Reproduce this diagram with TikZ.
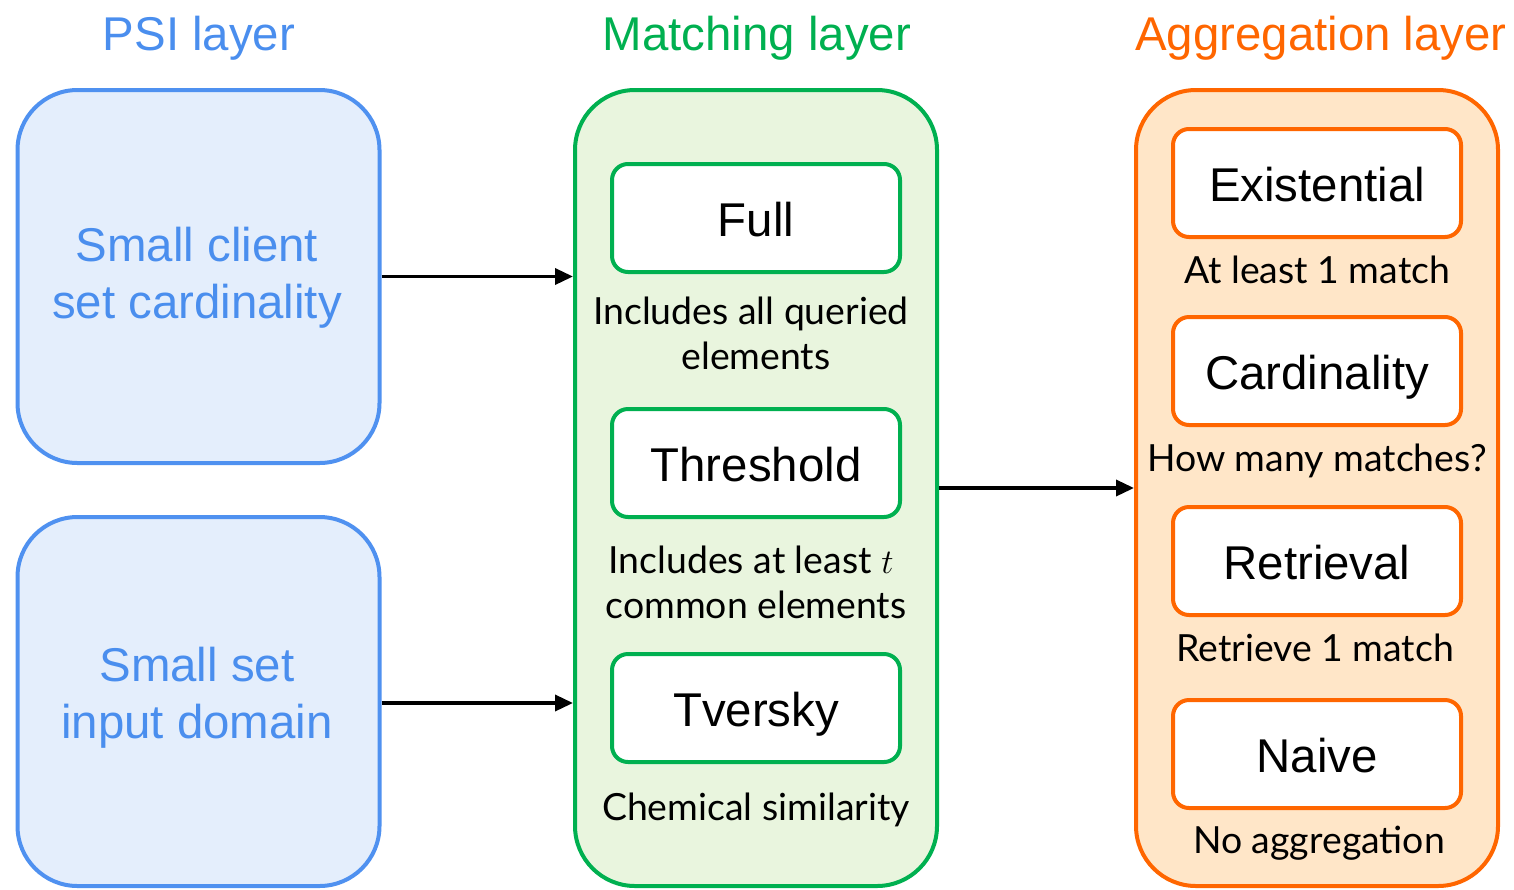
\documentclass[tikz,border=0pt]{standalone}
\usepackage{fontspec}
\setmainfont{Lato}
\newfontfamily\arialf{Liberation Sans}
\usetikzlibrary{arrows.meta}
\definecolor{bstroke}{RGB}{79,145,240}
\definecolor{bfill}{RGB}{228,238,252}
\definecolor{btext}{RGB}{74,142,238}
\definecolor{gstroke}{RGB}{0,176,80}
\definecolor{gfill}{RGB}{233,245,222}
\definecolor{gtext}{RGB}{0,176,80}
\definecolor{ostroke}{RGB}{255,102,0}
\definecolor{ofill}{RGB}{255,230,200}
\definecolor{otext}{RGB}{255,102,0}
\tikzset{
  layer/.style={draw, line width=2pt, rounded corners=30pt, minimum width=181pt, inner sep=0pt},
  psibox/.style={layer, draw=bstroke, fill=bfill, minimum height=#1},
  matchbox/.style={layer, draw=gstroke, fill=gfill, minimum height=398pt},
  aggbox/.style={layer, draw=ostroke, fill=ofill, minimum height=398pt},
  inner/.style={draw, line width=2pt, rounded corners=8pt, fill=white, minimum width=144pt, minimum height=54pt, inner sep=0pt},
  ginner/.style={inner, draw=gstroke},
  oinner/.style={inner, draw=ostroke},
  title/.style={font=\arialf\fontsize{23.7pt}{28pt}\selectfont, anchor=base, inner sep=0pt},
  lbl/.style={font=\arialf\fontsize{23.7pt}{28pt}\selectfont, anchor=base, inner sep=0pt},
  psitxt/.style={font=\arialf\fontsize{23.7pt}{28.5pt}\selectfont, text=btext, align=center, inner sep=0pt},
  desc/.style={font=\fontsize{18.7pt}{22.25pt}\selectfont, anchor=base, inner sep=0pt},
  arr/.style={line width=1.75pt, -{Triangle[length=9pt,width=8pt]}}
}
\begin{document}
\begin{tikzpicture}[x=0.5pt,y=-0.5pt]
\useasboundingbox (0,0) rectangle (1514,889);
% titles
\node[title, text=btext] (t1) at (199,50) {PSI layer};
\node[title, text=gtext] (t2) at (757,50) {Matching layer};
\node[title, text=otext] (t3) at (1321,50) {Aggregation layer};
% PSI boxes
\node[psibox=186.5pt] (p1) at (198.5,276.5) {};
\node[psibox=184.5pt] (p2) at (198.5,701.5) {};
\node[psitxt] (p1t) at (197,278) {Small client\\set cardinality};
\node[psitxt] (p2t) at (197,698) {Small set\\input domain};
% matching
\node[matchbox] (m) at (756,488) {};
\node[ginner] (full) at (756,218) {};
\node[lbl] (fullt) at (756,236) {Full};
\node[desc] (fulld1) at (751,324) {Includes all queried};
\node[desc] (fulld2) at (756,369) {elements};
\node[ginner] (thr) at (756,463) {};
\node[lbl] (thrt) at (756,481) {Threshold};
\node[desc] (thrd1) at (751,573) {Includes at least $t$};
\node[desc] (thrd2) at (756,618) {common elements};
\node[ginner] (tv) at (756,708) {};
\node[lbl] (tvt) at (756,726) {Tversky};
\node[desc] (tvd) at (756,820) {Chemical similarity};
% aggregation
\node[aggbox] (a) at (1317,488) {};
\node[oinner] (ex) at (1317,183) {};
\node[lbl] (ext) at (1317,201) {Existential};
\node[desc] (exd) at (1317,283) {At least 1 match};
\node[oinner] (ca) at (1317,371) {};
\node[lbl] (cat) at (1317,389) {Cardinality};
\node[desc] (cad) at (1317,471) {How many matches?};
\node[oinner] (re) at (1317,561) {};
\node[lbl] (ret) at (1317,579) {Retrieval};
\node[desc] (red) at (1315,661) {Retrieve 1 match};
\node[oinner] (na) at (1317,754) {};
\node[lbl] (nat) at (1317,772) {Naive};
\node[desc] (nad) at (1319,853) {No aggregation};
% arrows
\draw[arr] (p1.east) -- (p1.east -| m.west);
\draw[arr] ([yshift=-0.75pt]p2.east) -- ([yshift=-0.75pt]p2.east -| m.west);
\draw[arr] (m.east) -- (m.east -| a.west);
\end{tikzpicture}
\end{document}
